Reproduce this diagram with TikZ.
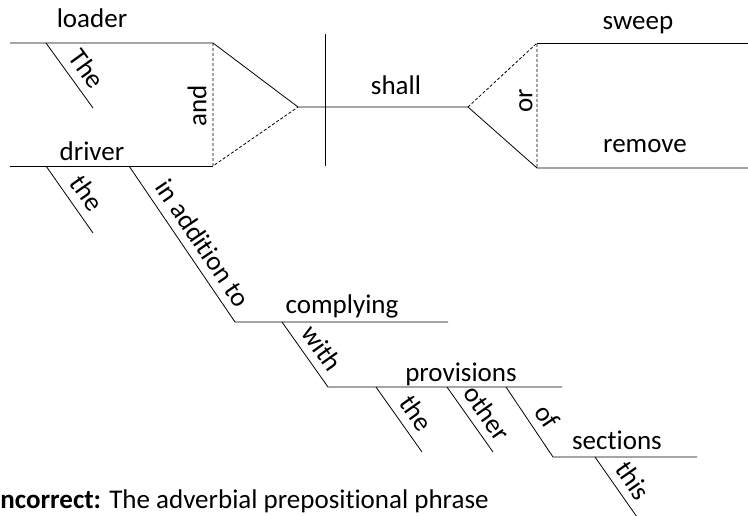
\documentclass[tikz,border=0pt]{standalone}
\usepackage{fontspec}
\setmainfont{Carlito}[Ligatures=NoCommon]

\begin{document}
\begin{tikzpicture}[x=1pt, y=-1pt, line width=0.8pt,
    every node/.style={font=\fontsize{27}{32}\selectfont, inner sep=1pt},
    word/.style={anchor=base},
    modif/.style={sloped, above=6pt, inner sep=2pt, pos=0.56},
    conj/.style={dash pattern=on 3pt off 2pt}]
\clip (0,0) rectangle (748,515);

% subject, verb and the two predicates
\coordinate (loaderL) at (10,43);
\coordinate (loaderR) at (213,43);
\coordinate (driverL) at (10,166);
\coordinate (driverR) at (213,166);
\coordinate (joinL) at (298,107);
\coordinate (baseTop) at (325,34);
\coordinate (baseBot) at (325,166);
\coordinate (forkR) at (468,107);
\coordinate (sweepL) at (537,43);
\coordinate (sweepR) at (748,43);
\coordinate (removeL) at (537,168);
\coordinate (removeR) at (748,168);

% modifiers
\coordinate (theAt) at (46,43);
\coordinate (theAb) at (93,108);
\coordinate (theBt) at (46,166);
\coordinate (theBb) at (93,233);
\coordinate (addT) at (129,166);
\coordinate (addB) at (235,322);
\coordinate (complyR) at (448,322);
\coordinate (withT) at (282,322);
\coordinate (withB) at (328,387);
\coordinate (provR) at (562,387);
\coordinate (theCt) at (376,387);
\coordinate (theCb) at (422,452);
\coordinate (otherT) at (447,387);
\coordinate (otherB) at (493,452);
\coordinate (ofT) at (506,387);
\coordinate (ofB) at (553,457);
\coordinate (sectR) at (697,457);
\coordinate (thisT) at (595,457);
\coordinate (thisB) at (644,527);

\draw (loaderL) -- (loaderR) -- (joinL) -- (forkR);
\draw[conj] (loaderR) -- (driverR) -- (joinL);
\draw (driverL) -- (driverR);
\draw (baseTop) -- (baseBot);
\draw[conj] (forkR) -- (sweepL) -- (removeL);
\draw (sweepL) -- (sweepR);
\draw (forkR) -- (removeL) -- (removeR);

\draw (theAt) -- node[modif] (wThe) {The} (theAb);
\draw (theBt) -- node[modif] (wtheB) {the} (theBb);
\draw (addT) -- node[modif] (wadd) {in addition to} (addB) -- (complyR);
\draw (withT) -- node[modif] (wwith) {with} (withB) -- (provR);
\draw (theCt) -- node[modif] (wtheC) {the} (theCb);
\draw (otherT) -- node[modif] (wother) {other} (otherB);
\draw (ofT) -- node[modif] (wof) {of} (ofB) -- (sectR);
\draw (thisT) -- node[modif, pos=0.48] (wthis) {this} (thisB);

\node[word] (loader) at (92,27) {loader};
\node[word] (driver) at (92,160) {driver};
\node[word] (shall) at (396,94) {shall};
\node[word] (sweep) at (638,29) {sweep};
\node[word] (remove) at (645,152) {remove};
\node[word] (complying) at (342,313) {complying};
\node[word] (provisions) at (461,381) {provisions};
\node[word] (sections) at (617,449) {sections};
\node[rotate=90] (and) at (197,106) {and};
\node[rotate=90] (or) at (526,101) {or};

\node[anchor=base west] (caption) at (-1,508)
    {\textbf{ncorrect:} The adverbial prepositional phrase};
\end{tikzpicture}
\end{document}
